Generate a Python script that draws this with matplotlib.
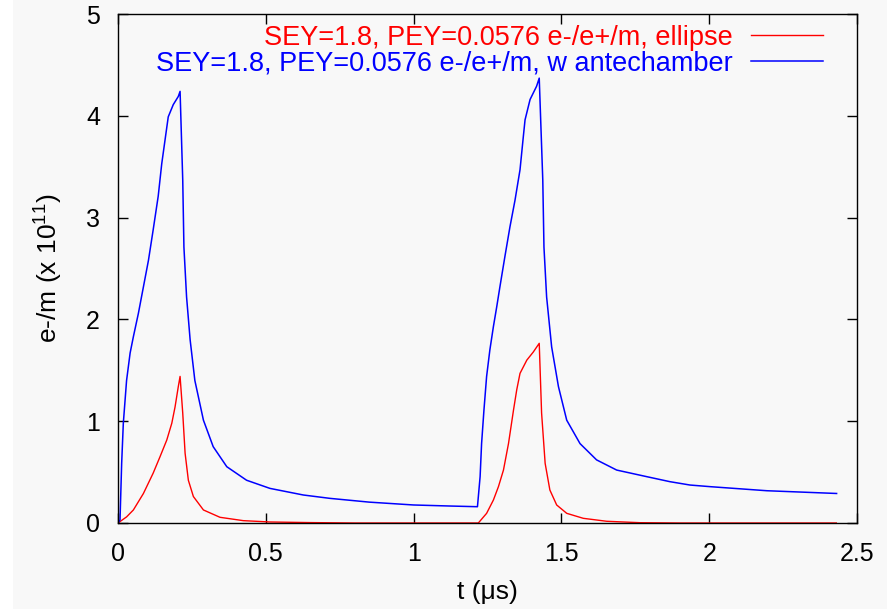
import numpy as np
import matplotlib.pyplot as plt
from matplotlib.patches import Rectangle

plt.rcParams['font.family'] = ['Liberation Sans', 'DejaVu Sans']
plt.rcParams['mathtext.fontset'] = 'custom'
plt.rcParams['mathtext.rm'] = 'Liberation Sans'

# blue: SEY=1.8 with antechamber
t_ante = [0.0, 0.0068, 0.0124, 0.018, 0.029, 0.041, 0.052, 0.069, 0.086, 0.103,
          0.119, 0.136, 0.148, 0.159, 0.170, 0.187, 0.204, 0.21,
          0.219, 0.223, 0.232, 0.244, 0.260, 0.289, 0.322, 0.368, 0.435, 0.514,
          0.627, 0.717, 0.85, 1.0, 1.12, 1.216,
          1.225, 1.230, 1.238, 1.247, 1.258, 1.270, 1.281, 1.292, 1.309, 1.326,
          1.343, 1.360, 1.371, 1.377, 1.394, 1.416, 1.425,
          1.437, 1.441, 1.450, 1.467, 1.490, 1.518, 1.563, 1.619, 1.687, 1.789,
          1.867, 1.935, 2.003, 2.195, 2.431]
y_ante = [0.0, 0.03, 0.586, 0.98, 1.40, 1.67, 1.83, 2.06, 2.32, 2.58,
          2.88, 3.21, 3.53, 3.76, 3.99, 4.11, 4.19, 4.24,
          3.37, 2.71, 2.22, 1.80, 1.40, 1.01, 0.75, 0.553, 0.42, 0.34,
          0.275, 0.242, 0.205, 0.177, 0.167, 0.16,
          0.455, 0.78, 1.11, 1.44, 1.70, 1.93, 2.12, 2.32, 2.62, 2.91,
          3.17, 3.47, 3.79, 3.96, 4.16, 4.29, 4.37,
          3.37, 2.71, 2.22, 1.73, 1.34, 1.01, 0.78, 0.62, 0.52, 0.455,
          0.406, 0.373, 0.357, 0.317, 0.29]

# red: SEY=1.8 ellipse
t_ell = [0.0, 0.029, 0.052, 0.086, 0.119, 0.142, 0.165, 0.182, 0.193, 0.204, 0.21,
         0.219, 0.227, 0.238, 0.255, 0.289, 0.345, 0.424, 0.514, 0.65, 0.8, 1.219,
         1.247, 1.27, 1.287, 1.304, 1.321, 1.338, 1.349, 1.36, 1.383, 1.405, 1.425,
         1.433, 1.445, 1.461, 1.484, 1.518, 1.574, 1.653, 1.766, 1.9, 2.43]
y_ell = [0.0, 0.06, 0.128, 0.29, 0.49, 0.65, 0.815, 0.98, 1.14, 1.34, 1.44,
         1.08, 0.685, 0.42, 0.26, 0.128, 0.056, 0.023, 0.01, 0.004, 0.0, 0.0,
         0.095, 0.226, 0.357, 0.52, 0.78, 1.11, 1.31, 1.47, 1.60, 1.68, 1.765,
         1.08, 0.586, 0.324, 0.177, 0.095, 0.046, 0.017, 0.003, 0.0, 0.0]

bg = '#f8f8f8'
fig = plt.figure(figsize=(8.95, 6.09), dpi=100, facecolor='white')
fig.patches.append(Rectangle((13 / 895, 0), 874 / 895, 1, transform=fig.transFigure,
                             facecolor=bg, edgecolor='none', zorder=-1))
ax = fig.add_axes([118 / 895, 86 / 609, 739 / 895, 509 / 609])
ax.set_facecolor(bg)

ax.plot(t_ell, y_ell, color='#ff0000', lw=1.0,
        label='SEY=1.8, PEY=0.0576 e-/e+/m, ellipse')
ax.plot(t_ante, y_ante, color='#0000ff', lw=1.1,
        label='SEY=1.8, PEY=0.0576 e-/e+/m, w antechamber')

ax.set_xlim(0, 2.5)
ax.set_ylim(0, 5)
ax.set_xticks([0, 0.5, 1, 1.5, 2, 2.5])
ax.set_xticklabels(['0', '0.5', '1', '1.5', '2', '2.5'])
ax.set_yticks([0, 1, 2, 3, 4, 5])
ax.tick_params(direction='in', top=True, right=True, length=7, width=1,
               labelsize=18)
ax.tick_params(axis='x', pad=14)
ax.tick_params(axis='y', pad=13)
for s in ax.spines.values():
    s.set_linewidth(1.0)

ax.set_xlabel('t (μs)', fontsize=19, labelpad=10)
ax.set_ylabel(r'e-/m (x 10$^{11}$)', fontsize=19, labelpad=16)

leg = ax.legend(loc='upper right', frameon=False, markerfirst=False, fontsize=19.5,
                handlelength=2.65, handletextpad=0.7, labelspacing=0.0,
                borderaxespad=0.0, bbox_to_anchor=(0.969, 1.0))
for txt, ln in zip(leg.get_texts(), leg.get_lines()):
    txt.set_color(ln.get_color())

fig.savefig('out.png', dpi=100, facecolor=fig.get_facecolor())
